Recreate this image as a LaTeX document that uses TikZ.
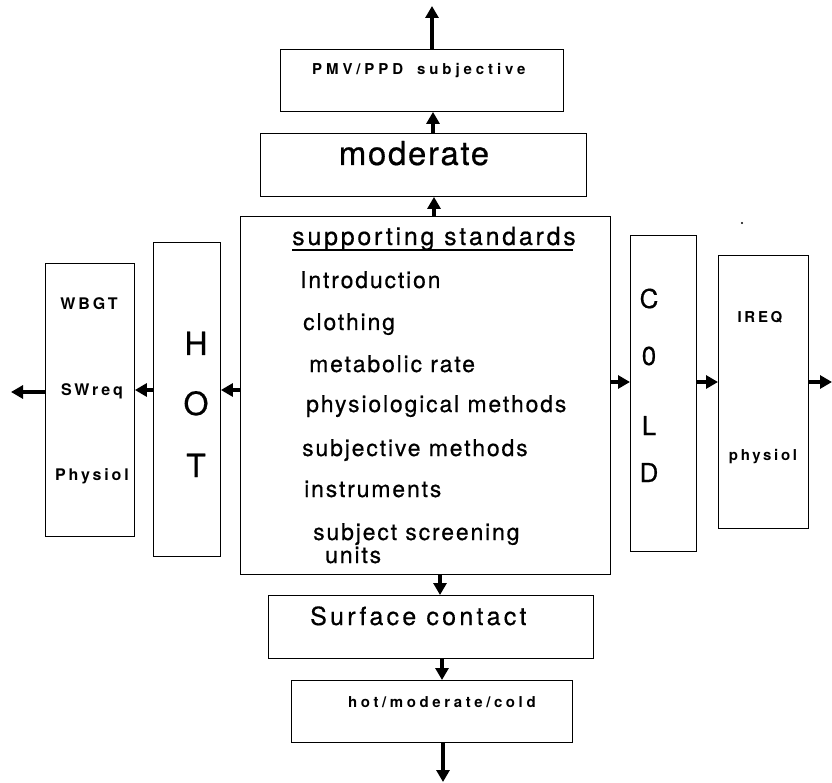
\documentclass[tikz,border=0pt]{standalone}
\usepackage{fontspec}
\setmainfont{TeX Gyre Heros}
\usetikzlibrary{arrows.meta,calc}
\newcommand{\sz}[2]{\fontsize{#1}{#1}\selectfont\addfontfeature{LetterSpace=#2}}
\newcommand{\heavy}{\addfontfeature{FakeBold=0.5}}
\tikzset{
  box/.style={draw, line width=0.9pt, inner sep=0pt, anchor=north west},
  arr/.style={line width=3.5pt, -{Triangle[length=12pt,width=13pt]}},
  lst/.style={inner sep=0pt, anchor=base west, font=\sz{23}{8}\heavy},
  ctr/.style={inner sep=0pt, anchor=base},
  big/.style={inner sep=0pt, anchor=base, font=\fontsize{32}{32}\selectfont\heavy},
  cbig/.style={inner sep=0pt, anchor=base, font=\fontsize{26}{26}\selectfont\heavy},
  sml/.style={inner sep=0pt, anchor=base, font=\bfseries\sz{16}{18}}
}
\begin{document}
\begin{tikzpicture}[x=1pt,y=-1pt]
\useasboundingbox (0,0) rectangle (832,783);
% boxes
\node[box, minimum width=283pt, minimum height=62pt] (pmv) at (280,49) {};
\node[box, minimum width=326pt, minimum height=63pt] (mod) at (260,133) {};
\node[box, minimum width=370pt, minimum height=358pt] (sup) at (240,216) {};
\node[box, minimum width=325pt, minimum height=63pt] (surf) at (268,595) {};
\node[box, minimum width=281pt, minimum height=62pt] (hmc) at (291,680) {};
\node[box, minimum width=89pt, minimum height=273pt] (lhot) at (45,263) {};
\node[box, minimum width=67pt, minimum height=314pt] (hot) at (153,242) {};
\node[box, minimum width=66pt, minimum height=316pt] (cold) at (630,235) {};
\node[box, minimum width=90pt, minimum height=273pt] (rcold) at (718,255) {};
% texts
\node[inner sep=0pt, anchor=base west, font=\bfseries\sz{15}{26}] (tpmv) at (312,75) {PMV/PPD\hspace{6pt} subjective};
\node[ctr, font=\sz{33}{5}\heavy] (tmod) at (414,165) {moderate};
\node[lst, font=\sz{25}{11}\heavy] (t0) at (292,245) {supporting standards};
\draw[line width=1.2pt] ($(t0.base west)+(0,5)$) -- ($(t0.base east)+(-3,5)$);
\node[lst] (t1) at (300,288) {Introduction};
\node[lst] (t2) at (303,330) {clothing};
\node[lst] (t3) at (309,372) {metabolic rate};
\node[lst] (t4) at (306,412) {physiological methods};
\node[lst] (t5) at (302,456) {subjective methods};
\node[lst] (t6) at (304,497) {instruments};
\node[lst] (t7) at (313,540) {subject screening};
\node[lst] (t8) at (325,563) {units};
\node[inner sep=0pt, anchor=base west, font=\sz{25}{13}\heavy] (tsurf) at (310,625) {Surface contact};
\node[inner sep=0pt, anchor=base west, font=\bfseries\sz{15}{24}] (thmc) at (348,707) {hot/moderate/cold};
\node[sml] (tw) at (89,310) {WBGT};
\node[sml] (ts) at (92,395) {SWreq};
\node[sml] (tp) at (92,480) {Physiol};
\node[big] (h1) at (196,355) {H};
\node[big] (h2) at (196,415) {O};
\node[big] (h3) at (196,477) {T};
\node[cbig] (c1) at (649,308) {C};
\node[cbig] (c2) at (649,365) {0};
\node[cbig] (c3) at (649,435) {L};
\node[cbig] (c4) at (649,482) {D};
\node[sml, font=\bfseries\sz{15}{18}] (ti) at (760,323) {IREQ};
\node[sml, font=\bfseries\sz{15}{18}] (tph) at (763,460) {physiol};
\fill (742,223) circle (1.1pt);
% coordinates
\coordinate (xa) at (432,0);
\coordinate (xb) at (433,0);
\coordinate (xc) at (434,0);
\coordinate (xd) at (440,0);
\coordinate (xe) at (442,0);
\coordinate (xf) at (443,0);
\coordinate (yl) at (0,390);
\coordinate (yl2) at (0,392);
\coordinate (yr) at (0,382);
\coordinate (topend) at (432,6);
\coordinate (botend) at (443,782);
\coordinate (leftend) at (11,392);
\coordinate (rightend) at (832,382);
% arrows
\draw[arr] (pmv.north -| xa) -- (topend);
\draw[arr] (mod.north -| xb) -- (pmv.south -| xb);
\draw[arr] (sup.north -| xc) -- (mod.south -| xc);
\draw[arr] (sup.south -| xd) -- (surf.north -| xd);
\draw[arr] (surf.south -| xe) -- (hmc.north -| xe);
\draw[arr] (hmc.south -| xf) -- (botend);
\draw[arr] (sup.west |- yl) -- (hot.east |- yl);
\draw[arr] (hot.west |- yl) -- (lhot.east |- yl);
\draw[arr] (lhot.west |- yl2) -- (leftend);
\draw[arr] (sup.east |- yr) -- (cold.west |- yr);
\draw[arr] (cold.east |- yr) -- (rcold.west |- yr);
\draw[arr] (rcold.east |- yr) -- (rightend);
\end{tikzpicture}
\end{document}
